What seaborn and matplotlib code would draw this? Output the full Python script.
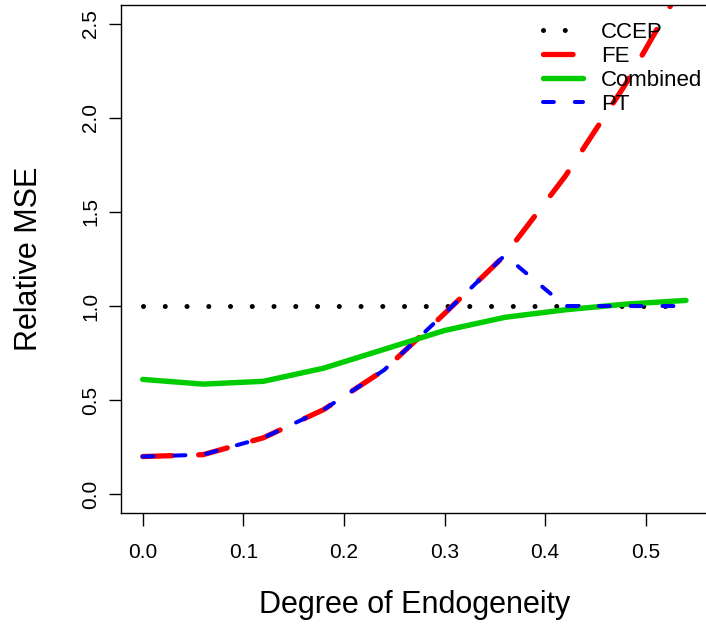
import matplotlib
matplotlib.use("Agg")
import matplotlib.pyplot as plt
import seaborn as sns
import pandas as pd

# ---- data ----
endogeneity = [0.00, 0.06, 0.12, 0.18, 0.24, 0.30, 0.36, 0.42, 0.48, 0.54]
ccep = [1.00, 1.00, 1.00, 1.00, 1.00, 1.00, 1.00, 1.00, 1.00, 1.00]
fe = [0.20, 0.21, 0.30, 0.45, 0.66, 0.96, 1.27, 1.69, 2.18, 2.74]
combined = [0.61, 0.585, 0.60, 0.67, 0.77, 0.87, 0.94, 0.98, 1.01, 1.03]
pt = [0.20, 0.21, 0.30, 0.45, 0.66, 0.96, 1.27, 1.00, 1.00, 1.00]
series_names = ["CCEP", "FE", "Combined", "PT"]
x_ticks = [0.0, 0.1, 0.2, 0.3, 0.4, 0.5]
y_ticks = [0.0, 0.5, 1.0, 1.5, 2.0, 2.5]

sns.set_theme(style="ticks")
plt.rcParams["font.family"] = ["Liberation Sans", "DejaVu Sans"]

W, H, DPI = 706, 626, 100
fig = plt.figure(figsize=(W / DPI, H / DPI), dpi=DPI)
ax_left, ax_right, ax_bottom, ax_top = 121, 707.7, 513, 5
ax = fig.add_axes([ax_left / W, (H - ax_bottom) / H,
                   (ax_right - ax_left) / W, (ax_bottom - ax_top) / H])

df = pd.DataFrame({"x": endogeneity, "CCEP": ccep, "FE": fe,
                   "Combined": combined, "PT": pt})

styles = {
    "CCEP": dict(color="black", linewidth=3.6, linestyle=(0, (0.01, 4.34))),
    "FE": dict(color="#ff0000", linewidth=3.8, linestyle=(0, (5.6, 5.0))),
    "Combined": dict(color="#00cd00", linewidth=3.9, linestyle="-"),
    "PT": dict(color="#0000ff", linewidth=2.9, linestyle=(0, (2.7, 5.2))),
}

for name in series_names:
    sns.lineplot(data=df, x="x", y=name, ax=ax, label=name,
                 dash_capstyle="round", solid_capstyle="round",
                 solid_joinstyle="round", dash_joinstyle="round",
                 **styles[name])

ax.set_xlim(-0.0216, 0.5616)
ax.set_ylim(-0.1, 2.6)
ax.set_xticks(x_ticks)
ax.set_xticklabels([f"{v:.1f}" for v in x_ticks])
ax.set_yticks(y_ticks)
ax.set_yticklabels([f"{v:.1f}" for v in y_ticks], rotation=90, va="center")

for s in ax.spines.values():
    s.set_visible(True)
    s.set_color("black")
    s.set_linewidth(1.0)

ax.tick_params(axis="both", which="major", length=9, width=1.0,
               color="black", labelsize=15, labelcolor="black", direction="out")
ax.tick_params(axis="x", pad=12.5)
ax.tick_params(axis="y", pad=6)

ax.set_xlabel("Degree of Endogeneity", fontsize=22, color="black")
ax.set_ylabel("Relative MSE", fontsize=22, color="black")
ax.xaxis.label.set_verticalalignment("center")
ax.yaxis.label.set_verticalalignment("center")
ax.xaxis.set_label_coords(0.5, (ax_bottom - 605) / (ax_bottom - ax_top))
ax.yaxis.set_label_coords((29 - ax_left) / (ax_right - ax_left), 0.5)

leg = ax.legend(loc="upper left",
                bbox_to_anchor=(543 / W, (H - 22) / H),
                bbox_transform=fig.transFigure,
                frameon=False, fontsize=16, handlelength=1.8,
                handletextpad=0.8, labelspacing=0.13, borderpad=0,
                borderaxespad=0)
for t in leg.get_texts():
    t.set_color("black")

ax.grid(False)
fig.savefig("out.png", dpi=DPI)
